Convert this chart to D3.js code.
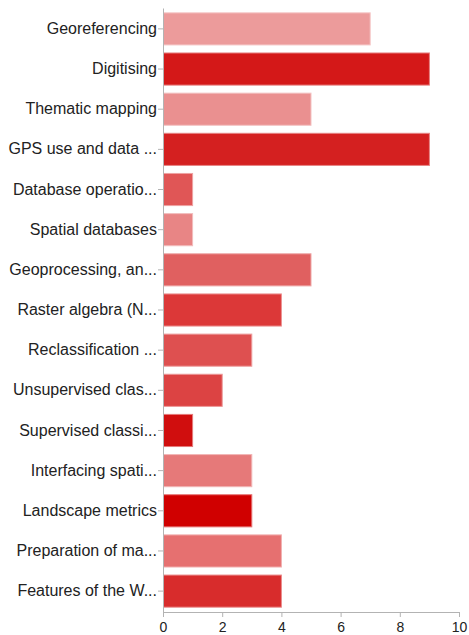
<!DOCTYPE html>
<html>
<head>
<meta charset="utf-8">
<script src="https://cdn.jsdelivr.net/npm/d3@7"></script>
<style>
  html, body { margin: 0; padding: 0; background: #fff; }
  svg { display: block; }
</style>
</head>
<body>
<svg id="chart" width="469" height="635"></svg>
<script>
const categories = [
  "Georeferencing",
  "Digitising",
  "Thematic mapping",
  "GPS use and data ...",
  "Database operatio...",
  "Spatial databases",
  "Geoprocessing, an...",
  "Raster algebra (N...",
  "Reclassification ...",
  "Unsupervised clas...",
  "Supervised classi...",
  "Interfacing spati...",
  "Landscape metrics",
  "Preparation of ma...",
  "Features of the W..."
];
const values = [7, 9, 5, 9, 1, 1, 5, 4, 3, 2, 1, 3, 3, 4, 4];
const colors = [
  "#ec9b9b", "#d41818", "#ea9090", "#d42020", "#e05656",
  "#e88585", "#e06060", "#dc3838", "#de5050", "#dc4343",
  "#d00e0e", "#e67979", "#d00000", "#e67070", "#d82c2c"
];
const xTicks = [0, 2, 4, 6, 8, 10];

const svg = d3.select("#chart");
const x = d3.scaleLinear().domain([0, 10]).range([163, 459]);
const y = d3.scaleBand().domain(categories).range([8, 612])
  .paddingInner(0.2).paddingOuter(0.12);

svg.append("g")
  .selectAll("rect")
  .data(categories)
  .join("rect")
  .attr("x", x(0) + 0.5)
  .attr("y", d => y(d))
  .attr("width", (d, i) => x(values[i]) - x(0) - 0.5)
  .attr("height", y.bandwidth())
  .attr("fill", (d, i) => colors[i])
  .attr("stroke", (d, i) => d3.interpolateRgb(colors[i], "#ffffff")(0.45))
  .attr("stroke-width", 1);

const gy = svg.append("g")
  .attr("transform", `translate(${x(0)},0)`)
  .call(d3.axisLeft(y).tickSize(5).tickSizeOuter(0).tickPadding(1));
gy.select(".domain").attr("stroke", "#b3b3b3");
gy.selectAll(".tick line").attr("stroke", "#b3b3b3");
gy.selectAll(".tick text")
  .attr("fill", "#222")
  .style("font-family", "'Liberation Sans', Arial, sans-serif")
  .style("font-size", "16px");

const gx = svg.append("g")
  .attr("transform", `translate(0,612)`)
  .call(d3.axisBottom(x).tickValues(xTicks).tickSize(5).tickSizeOuter(0).tickPadding(5));
gx.select(".domain").attr("stroke", "#b3b3b3");
gx.selectAll(".tick line").attr("stroke", "#b3b3b3");
gx.selectAll(".tick text")
  .attr("fill", "#222")
  .style("font-family", "'Liberation Sans', Arial, sans-serif")
  .style("font-size", "14px");
</script>
</body>
</html>
